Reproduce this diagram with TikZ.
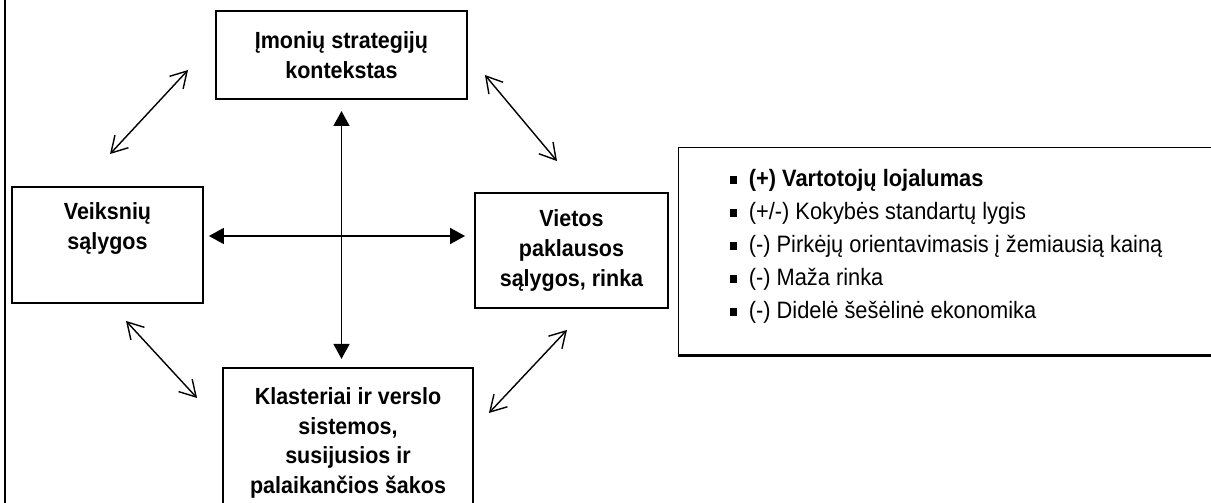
\documentclass[tikz,border=0pt]{standalone}
\usepackage{fontspec}
\setmainfont{Liberation Sans}[FakeStretch=0.92]
\usepackage{tikz}
\usetikzlibrary{calc}
\usetikzlibrary{arrows.meta}

\newcommand{\sqbullet}{\rule[1.5pt]{4.3pt}{4.3pt}\hspace{6.5pt}}

\tikzset{
	box/.style={draw, line width=1.1pt, align=center, font=\bfseries\fontsize{13.3pt}{17pt}\selectfont},
	boxtext/.style={align=center, inner sep=0pt, font=\bfseries\fontsize{13.3pt}{17pt}\selectfont},
	listbox/.style={draw, line width=0.85pt},
	listtext/.style={align=left, inner sep=0pt, font=\fontsize{13.5pt}{18.8pt}\selectfont},
	crossarrow/.style={line width=1.1pt, {Triangle[length=8.5pt,width=9pt]}-{Triangle[length=8.5pt,width=9pt]}},
	barbarrow/.style={line width=0.8pt, {Straight Barb[length=9pt,width=10.5pt]}-{Straight Barb[length=9pt,width=10.5pt]}},
}

\begin{document}
\begin{tikzpicture}[x=0.02cm, y=-0.02cm]
			\useasboundingbox (0,0) rectangle (1211,503);
			\draw[line width=1.1pt] (5,0) -- (5,503);

			\node[box, minimum width=5.02cm, minimum height=1.76cm] (imones) at (341.5,55) {Įmonių strategijų\\kontekstas};
			\node[box, minimum width=3.82cm, minimum height=2.32cm] (veiksniai) at (107.5,245) {};
			\node[boxtext, anchor=north] (veiksniaitxt) at ($(veiksniai.north)+(0,16)$) {Veiksnių\\sąlygos};
			\node[box, minimum width=3.86cm, minimum height=2.30cm] (vietos) at (571.5,250.5) {Vietos\\paklausos\\sąlygos, rinka};
			\node[box, anchor=north, minimum width=5.0cm, inner ysep=11pt] (klasteriai) at (348,367) {Klasteriai ir verslo\\sistemos,\\susijusios ir\\palaikančios šakos};

			%salygos rinkoje
			\node[listbox, anchor=north west, minimum width=11.04cm, minimum height=4.14cm] (salygos) at (678,147) {};
			\node[listtext, anchor=north west] (salygostxt) at ($(salygos.north west)+(51.5,22)$) {%
				\sqbullet\textbf{(+) Vartotojų lojalumas}\\
				\sqbullet(+/-) Kokybės standartų lygis\\
				\sqbullet(-) Pirkėjų orientavimasis į žemiausią kainą\\
				\sqbullet(-) Maža rinka\\
				\sqbullet(-) Didelė šešėlinė ekonomika};
			\draw[line width=1.7pt] (salygos.south west) -- (salygos.south east);

			\coordinate (mid) at (342,236);

			\draw[crossarrow, shorten <=6.3pt, shorten >=4.6pt] (imones.south) -- (imones.south |- klasteriai.north);
			\draw[crossarrow, shorten <=2.8pt, shorten >=5.1pt] (mid -| veiksniai.east) -- (mid -| vietos.west);

			\draw[barbarrow] ($(veiksniai.north)+(2.5,-32)$) -- ($(imones.west)+(-27,15)$);
			\draw[barbarrow] ($(imones.east)+(17,20)$) -- ($(vietos.north)+(-14.5,-31)$);
			\draw[barbarrow] ($(veiksniai.south)+(18.5,17)$) -- ($(klasteriai.north west)+(-25,31)$);
			\draw[barbarrow] ($(vietos.south)+(-4.5,21)$) -- ($(klasteriai.north east)+(15,46)$);

		\end{tikzpicture}
\end{document}
